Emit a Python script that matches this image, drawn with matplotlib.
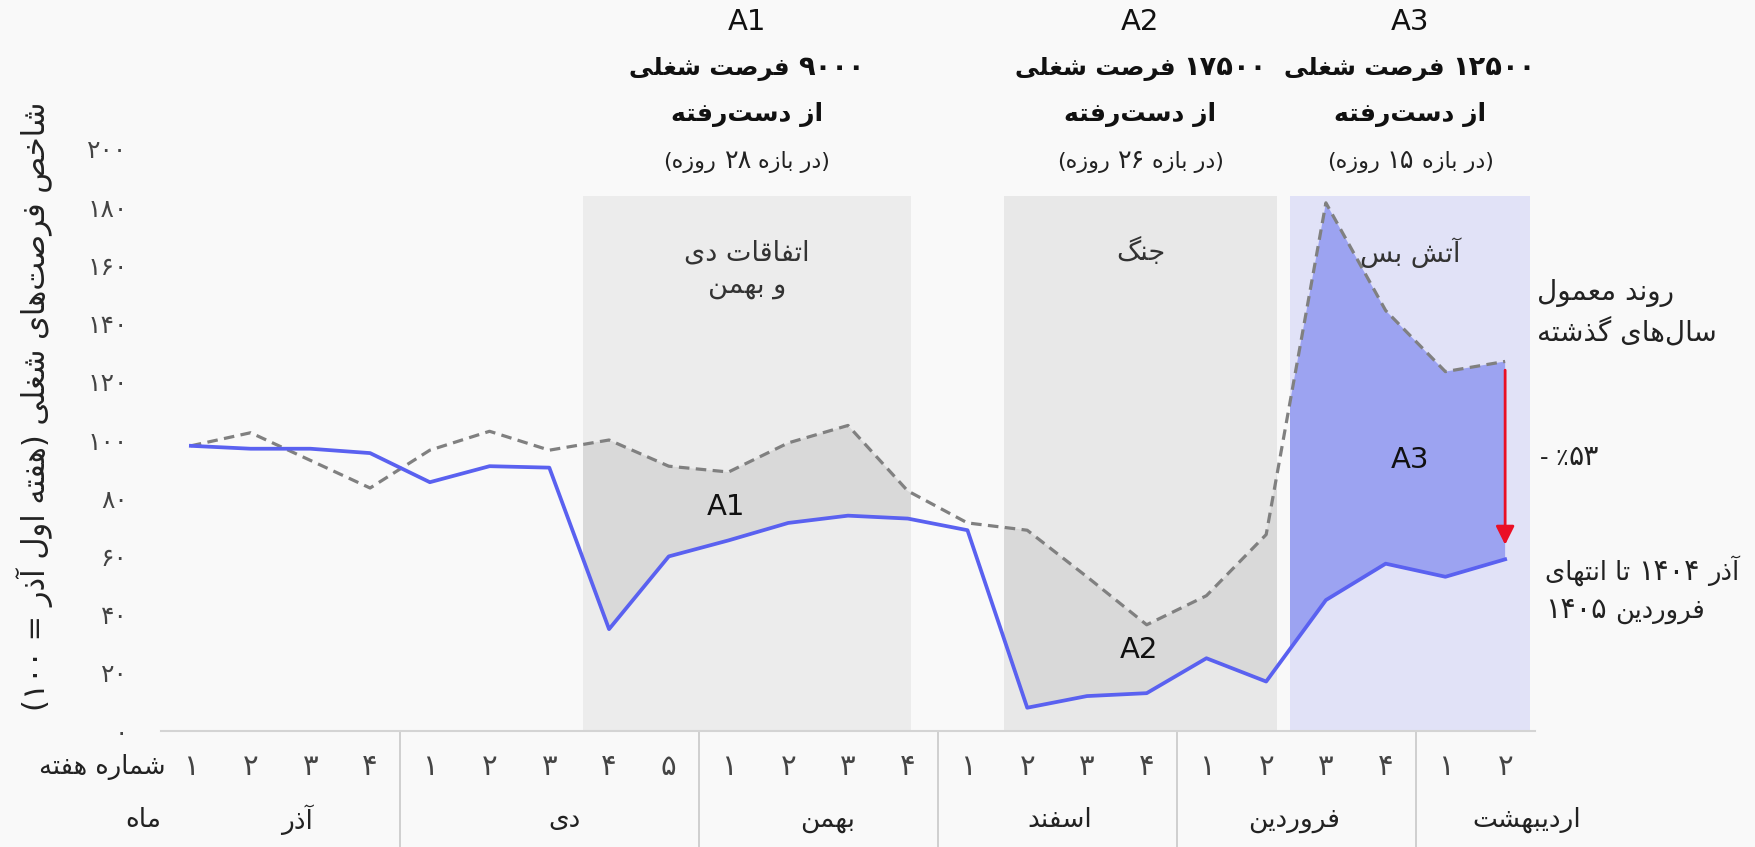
import re
import matplotlib
matplotlib.use("Agg")
import matplotlib.pyplot as plt
from matplotlib.patches import Rectangle
from matplotlib.offsetbox import TextArea, HPacker, VPacker, AnnotationBbox, DrawingArea
import numpy as np

plt.rcParams['font.family'] = ['DejaVu Sans']

# --- data ---
weeks = ['۱', '۲', '۳', '۴',
         '۱', '۲', '۳', '۴', '۵',
         '۱', '۲', '۳', '۴',
         '۱', '۲', '۳', '۴',
         '۱', '۲', '۳', '۴',
         '۱', '۲']
months = ['آذر', 'دی', 'بهمن', 'اسفند', 'فروردین', 'اردیبهشت']
month_len = [4, 5, 4, 4, 4, 2]

actual = [98, 97, 97, 95.5, 85.5, 91, 90.5, 35, 60, 65.5, 71.5, 74, 73,
          69, 8, 12, 13, 25, 17, 45, 57.5, 53, 59]
normal = [98, 102.5, 93, 83.5, 96.5, 103, 96.5, 100, 91, 89, 99, 105, 82.5,
          71.5, 69, 53, 36.5, 46.5, 67.5, 181.5, 144.5, 123.5, 127]

yticks = [0, 20, 40, 60, 80, 100, 120, 140, 160, 180, 200]
ytick_labels = ['۰', '۲۰', '۴۰', '۶۰', '۸۰', '۱۰۰', '۱۲۰', '۱۴۰', '۱۶۰', '۱۸۰', '۲۰۰']

# shaded periods (x range in week index units, top value)
periods = [(6.56, 12.05), (13.61, 18.18), (18.40, 22.42)]
period_top = 184
period_names = ['A1', 'A2', 'A3']
period_titles = ['۹۰۰۰ فرصت شغلی', '۱۷۵۰۰ فرصت شغلی', '۱۲۵۰۰ فرصت شغلی']
period_days = ['(در بازه ۲۸ روزه)', '(در بازه ۲۶ روزه)', '(در بازه ۱۵ روزه)']
period_events = ['اتفاقات دی\nو بهمن', 'جنگ', 'آتش بس']

# layout: where the labels sit
area_label_pos = [(8.96, 77), (15.87, 28), (20.4, 93)]
month_label_x = [1.78, 6.25, 10.66, 14.55, 18.47, 22.37]

# --- minimal persian shaping (matplotlib has no text shaping) ---
FORMS = {
    'ا': (0xFE8D, 0xFE8E, None, None), 'آ': (0xFE81, 0xFE82, None, None),
    'ب': (0xFE8F, 0xFE90, 0xFE91, 0xFE92), 'پ': (0xFB56, 0xFB57, 0xFB58, 0xFB59),
    'ت': (0xFE95, 0xFE96, 0xFE97, 0xFE98), 'ث': (0xFE99, 0xFE9A, 0xFE9B, 0xFE9C),
    'ج': (0xFE9D, 0xFE9E, 0xFE9F, 0xFEA0), 'چ': (0xFB7A, 0xFB7B, 0xFB7C, 0xFB7D),
    'ح': (0xFEA1, 0xFEA2, 0xFEA3, 0xFEA4), 'خ': (0xFEA5, 0xFEA6, 0xFEA7, 0xFEA8),
    'د': (0xFEA9, 0xFEAA, None, None), 'ذ': (0xFEAB, 0xFEAC, None, None),
    'ر': (0xFEAD, 0xFEAE, None, None), 'ز': (0xFEAF, 0xFEB0, None, None),
    'ژ': (0xFB8A, 0xFB8B, None, None),
    'س': (0xFEB1, 0xFEB2, 0xFEB3, 0xFEB4), 'ش': (0xFEB5, 0xFEB6, 0xFEB7, 0xFEB8),
    'ص': (0xFEB9, 0xFEBA, 0xFEBB, 0xFEBC), 'ض': (0xFEBD, 0xFEBE, 0xFEBF, 0xFEC0),
    'ط': (0xFEC1, 0xFEC2, 0xFEC3, 0xFEC4), 'ظ': (0xFEC5, 0xFEC6, 0xFEC7, 0xFEC8),
    'ع': (0xFEC9, 0xFECA, 0xFECB, 0xFECC), 'غ': (0xFECD, 0xFECE, 0xFECF, 0xFED0),
    'ف': (0xFED1, 0xFED2, 0xFED3, 0xFED4), 'ق': (0xFED5, 0xFED6, 0xFED7, 0xFED8),
    'ک': (0xFB8E, 0xFB8F, 0xFB90, 0xFB91), 'گ': (0xFB92, 0xFB93, 0xFB94, 0xFB95),
    'ل': (0xFEDD, 0xFEDE, 0xFEDF, 0xFEE0), 'م': (0xFEE1, 0xFEE2, 0xFEE3, 0xFEE4),
    'ن': (0xFEE5, 0xFEE6, 0xFEE7, 0xFEE8), 'و': (0xFEED, 0xFEEE, None, None),
    'ه': (0xFEE9, 0xFEEA, 0xFEEB, 0xFEEC), 'ی': (0xFBFC, 0xFBFD, 0xFBFE, 0xFBFF),
}
DIGITS = '۰۱۲۳۴۵۶۷۸۹'


def shape(s):
    out = []
    for i, c in enumerate(s):
        if c not in FORMS:
            out.append(c)
            continue
        f = FORMS[c]
        prev = s[i - 1] if i > 0 else None
        nxt = s[i + 1] if i + 1 < len(s) else None
        jp = prev in FORMS and FORMS[prev][2] is not None
        jn = f[2] is not None and nxt in FORMS
        if jp and jn:
            code = f[3]
        elif jp:
            code = f[1]
        elif jn:
            code = f[2]
        else:
            code = f[0]
        out.append(chr(code))
    return ''.join(out).replace('\u200c', '')


def fa(s):
    lines = []
    for line in s.split('\n'):
        toks = re.findall(r'[0-9\u06F0-\u06F9A-Za-z]+|.', shape(line))
        toks.reverse()
        mirror = {'(': ')', ')': '('}
        lines.append(''.join(mirror.get(t, t) for t in toks))
    return '\n'.join(lines)


def rich(ax, x, y, s, size, ha='center', dscale=1.15, sep=3, raw=False, **props):
    # persian text where the (small) dejavu digits are drawn a bit larger
    vis = s if raw else fa(s)
    gap = size * 0.32
    rows = []
    for line in vis.split('\n'):
        runs = re.findall('[' + DIGITS + ']+|[^' + DIGITS + ']+', line)
        kids = []
        for r in runs:
            if r.startswith(' '):
                kids.append(DrawingArea(gap, 1))
            body = r.strip(' ')
            if body:
                fs = size * (dscale if body[0] in DIGITS else 1)
                kids.append(TextArea(body, textprops=dict(fontsize=fs, **props)))
            if r.endswith(' ') and r.strip(' '):
                kids.append(DrawingArea(gap, 1))
        rows.append(HPacker(children=kids, align='baseline', pad=0, sep=0))
    box = VPacker(children=rows, align='center' if ha == 'center' else 'left', pad=0, sep=sep)
    ab = AnnotationBbox(box, (x, y), xycoords='data', frameon=False, pad=0,
                        box_alignment=(0.5 if ha == 'center' else 0, 0.5), annotation_clip=False)
    ax.add_artist(ab)


x = np.arange(len(actual))
bg = '#f9f9f9'

fig = plt.figure(figsize=(17.55, 8.47), dpi=100, facecolor=bg)
ax = fig.add_axes([161 / 1755, 1 - 731 / 847, 1374 / 1755, 582 / 847])
ax.set_facecolor(bg)
ax.set_xlim(-0.5, 22.5)
ax.set_ylim(0, 200)

box_colors = ['#ececec', '#e8e8e8', '#e1e2f7']
fill_colors = ['#d9d9d9', '#d9d9d9', '#9ca3f1']
for (x0, x1), bc, fc in zip(periods, box_colors, fill_colors):
    rect = Rectangle((x0, 0), x1 - x0, period_top, facecolor=bc, edgecolor='none', zorder=0)
    ax.add_patch(rect)
    clip = Rectangle((x0, 0), x1 - x0, period_top, transform=ax.transData)
    poly = ax.fill_between(x, normal, actual, where=np.array(normal) >= np.array(actual),
                           interpolate=True, color=fc, lw=0, zorder=1)
    poly.set_clip_path(clip)

ax.plot(x, normal, color='#808080', lw=2.3, dashes=(3.3, 2), zorder=3)
ax.plot(x, actual, color='#5a61f0', lw=2.7, zorder=4)

# red arrow: drop at last week
ax.annotate('', xy=(x[-1], actual[-1] + 5), xytext=(x[-1], normal[-1] - 3),
            arrowprops=dict(arrowstyle='-|>', color='#ea0f25', lw=2, mutation_scale=28,
                            shrinkA=0, shrinkB=0), zorder=5)

# axes style
for s in ['top', 'right', 'left']:
    ax.spines[s].set_visible(False)
ax.spines['bottom'].set_color('#d4d4d4')
ax.spines['bottom'].set_linewidth(1.5)
ax.set_yticks(yticks)
ax.set_yticklabels(ytick_labels, fontsize=18, color='#444444')
ax.tick_params(axis='y', length=0, pad=24)
ax.set_xticks([])

# week and month rows
tr = ax.get_xaxis_transform()
for xi, w in zip(x, weeks):
    ax.text(xi, -0.062, w, transform=tr, ha='center', va='center', fontsize=21, color='#444444')
ax.text(-0.42, -0.062, fa('شماره هفته'), transform=tr, ha='right', va='center',
        fontsize=18.5, color='#222222')
ax.text(-0.5, -0.153, fa('ماه'), transform=tr, ha='right', va='center',
        fontsize=19, color='#222222')
start = 0
for m, n, mx in zip(months, month_len, month_label_x):
    ax.text(mx, -0.153, fa(m), transform=tr, ha='center', va='center',
            fontsize=19, color='#222222')
    if start + n < len(x):
        ax.plot([start + n - 0.5] * 2, [0, -0.2], transform=tr, color='#c8c8c8',
                lw=1.2, clip_on=False)
    start += n

# period annotations
for (x0, x1), nm, t, d, ev, (lx, ly) in zip(periods, period_names, period_titles,
                                           period_days, period_events, area_label_pos):
    cx = (x0 + x1) / 2
    ax.text(cx, 243.5, nm, ha='center', va='center', fontsize=21, color='#111111', clip_on=False)
    rich(ax, cx, 228, t, 17.5, dscale=1.12, fontweight='bold', color='#111111')
    ax.text(cx, 212, fa('از دست‌رفته'), ha='center', va='center', fontsize=18,
            fontweight='bold', color='#111111', clip_on=False)
    rich(ax, cx, 196, d, 16, color='#222222')
    ax.text(cx, 164.5 if '\n' not in ev else 158.5, fa(ev), ha='center', va='center',
            fontsize=19.5, color='#333333', linespacing=1.3, zorder=6)
    ax.text(lx, ly, nm, ha='center', va='center', fontsize=21, color='#111111', zorder=6)

# right-hand notes
rich(ax, 22.53, 144, 'روند معمول\nسال‌های گذشته', 20, ha='left', sep=7, color='#222222')
rich(ax, 22.58, 94.2, '- ٪۵۳', 17, ha='left', raw=True, dscale=1.2, color='#222222')
rich(ax, 22.67, 48.5, 'آذر ۱۴۰۴ تا انتهای\nفروردین ۱۴۰۵', 18.5, ha='left', sep=7,
     dscale=1.12, color='#222222')

fig.text(34 / 1755, 1 - 406 / 847, fa('شاخص فرصت‌های شغلی (هفته اول آذر = ۱۰۰)'),
         rotation=90, ha='center', va='center', fontsize=22, color='#222222')

fig.savefig('out.png', dpi=100, facecolor=bg)
